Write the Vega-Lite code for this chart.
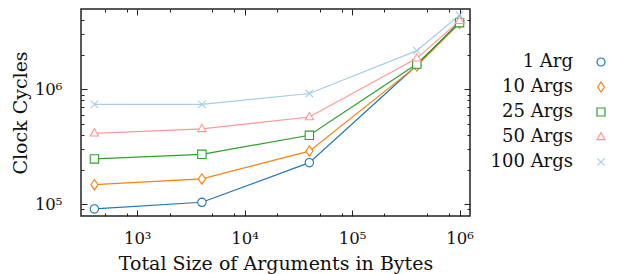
{
  "$schema": "https://vega.github.io/schema/vega-lite/v6.json",
  "width": 389,
  "height": 207,
  "autosize": {"type": "none"},
  "padding": {"left": 81, "top": 9, "right": 148, "bottom": 58},
  "background": "white",
  "config": {
    "view": {"stroke": "#222", "strokeWidth": 1.5},
    "font": "DejaVu Serif",
    "axis": {
      "domain": false, "grid": false, "tickColor": "#222", "tickWidth": 1,
      "labelFont": "DejaVu Serif", "labelFontSize": 16.5, "labelColor": "#111",
      "titleFont": "DejaVu Serif", "titleFontSize": 19, "titleFontWeight": "normal", "titleColor": "#111",
      "labelOverlap": false, "labelFlush": false
    },
    "legend": {
      "title": null, "orient": "none", "legendX": 511, "legendY": 44, "labelAlign": "right", "labelOffset": -37,
      "labelFont": "DejaVu Serif", "labelFontSize": 18, "labelColor": "#111", "symbolSize": 64, "symbolStrokeWidth": 1.2,
      "symbolFillColor": "white", "rowPadding": 7, "padding": 0
    }
  },
  "data": {"values": [
    {"series": "1 Arg", "size": 400, "cycles": 91000},
    {"series": "1 Arg", "size": 4000, "cycles": 104000},
    {"series": "1 Arg", "size": 40000, "cycles": 230000},
    {"series": "1 Arg", "size": 400000, "cycles": 1620000},
    {"series": "1 Arg", "size": 1000000, "cycles": 3850000},
    {"series": "10 Args", "size": 400, "cycles": 148000},
    {"series": "10 Args", "size": 4000, "cycles": 166000},
    {"series": "10 Args", "size": 40000, "cycles": 290000},
    {"series": "10 Args", "size": 400000, "cycles": 1600000},
    {"series": "10 Args", "size": 1000000, "cycles": 3750000},
    {"series": "25 Args", "size": 400, "cycles": 248000},
    {"series": "25 Args", "size": 4000, "cycles": 272000},
    {"series": "25 Args", "size": 40000, "cycles": 398000},
    {"series": "25 Args", "size": 400000, "cycles": 1660000},
    {"series": "25 Args", "size": 1000000, "cycles": 3800000},
    {"series": "50 Args", "size": 400, "cycles": 414000},
    {"series": "50 Args", "size": 4000, "cycles": 452000},
    {"series": "50 Args", "size": 40000, "cycles": 574000},
    {"series": "50 Args", "size": 400000, "cycles": 1860000},
    {"series": "50 Args", "size": 1000000, "cycles": 3950000},
    {"series": "100 Args", "size": 400, "cycles": 741000},
    {"series": "100 Args", "size": 4000, "cycles": 741000},
    {"series": "100 Args", "size": 40000, "cycles": 920000},
    {"series": "100 Args", "size": 400000, "cycles": 2170000},
    {"series": "100 Args", "size": 1000000, "cycles": 4430000}
  ]},
  "layer": [
    {
      "mark": {"type": "line", "opacity": 0},
      "encoding": {
        "x": {"field": "size", "type": "quantitative",
          "scale": {"type": "log", "domain": [300, 1250000], "nice": false},
          "axis": {"orient": "top", "labels": false, "title": null,
            "values": [500, 800, 1000, 2000, 5000, 8000, 10000, 20000, 50000, 80000, 100000, 200000, 500000, 800000, 1000000],
            "tickSize": {"condition": {"test": "abs(log(datum.value)/LN10 - round(log(datum.value)/LN10)) < 0.001", "value": -6}, "value": -3}}},
        "y": {"field": "cycles", "type": "quantitative",
          "scale": {"type": "log", "domain": [79000, 5000000], "nice": false},
          "axis": {"orient": "right", "labels": false, "title": null,
            "values": [90000, 100000, 200000, 300000, 400000, 500000, 600000, 700000, 800000, 900000, 1000000, 2000000, 3000000, 4000000],
            "tickSize": {"condition": {"test": "abs(log(datum.value)/LN10 - round(log(datum.value)/LN10)) < 0.001", "value": -6}, "value": -3}}}
      }
    },
    {
      "mark": {"type": "line", "strokeWidth": 1.2},
      "encoding": {
        "x": {"field": "size", "type": "quantitative",
          "scale": {"type": "log", "domain": [300, 1250000], "nice": false},
          "axis": {"orient": "bottom", "title": "Total Size of Arguments in Bytes", "titlePadding": 5,
            "values": [500, 800, 1000, 2000, 5000, 8000, 10000, 20000, 50000, 80000, 100000, 200000, 500000, 800000, 1000000],
            "labelExpr": "datum.value==1000?'10³':datum.value==10000?'10⁴':datum.value==100000?'10⁵':datum.value==1000000?'10⁶':''",
            "labelPadding": 20,
            "tickSize": {"condition": {"test": "abs(log(datum.value)/LN10 - round(log(datum.value)/LN10)) < 0.001", "value": -6}, "value": -3}}},
        "y": {"field": "cycles", "type": "quantitative",
          "scale": {"type": "log", "domain": [79000, 5000000], "nice": false},
          "axis": {"orient": "left", "title": "Clock Cycles", "titlePadding": 4,
            "values": [90000, 100000, 200000, 300000, 400000, 500000, 600000, 700000, 800000, 900000, 1000000, 2000000, 3000000, 4000000],
            "labelExpr": "datum.value==100000?'10⁵':datum.value==1000000?'10⁶':''",
            "labelPadding": 25,
            "tickSize": {"condition": {"test": "abs(log(datum.value)/LN10 - round(log(datum.value)/LN10)) < 0.001", "value": -6}, "value": -3}}},
        "color": {"field": "series", "type": "nominal",
          "scale": {"domain": ["1 Arg", "10 Args", "25 Args", "50 Args", "100 Args"], "range": ["#1f77b4", "#ff7f0e", "#2ca02c", "#ff9896", "#a6cee3"]}}
      }
    },
    {
      "mark": {"type": "point", "filled": false, "fill": "white", "opacity": 1, "strokeWidth": 1.1, "size": 70},
      "encoding": {
        "x": {"field": "size", "type": "quantitative",
          "scale": {"type": "log", "domain": [300, 1250000], "nice": false}, "axis": null},
        "y": {"field": "cycles", "type": "quantitative",
          "scale": {"type": "log", "domain": [79000, 5000000], "nice": false}, "axis": null},
        "color": {"field": "series", "type": "nominal",
          "scale": {"domain": ["1 Arg", "10 Args", "25 Args", "50 Args", "100 Args"], "range": ["#1f77b4", "#ff7f0e", "#2ca02c", "#ff9896", "#a6cee3"]}},
        "shape": {"field": "series", "type": "nominal",
          "scale": {"domain": ["1 Arg", "10 Args", "25 Args", "50 Args", "100 Args"],
            "range": ["circle", "M0,-1.25L0.85,0L0,1.25L-0.85,0Z", "square", "M0,-1.1L1,0.65L-1,0.65Z", "M-0.9,-0.9L0.9,0.9M-0.9,0.9L0.9,-0.9"]}}
      }
    }
  ],
  "resolve": {"axis": {"x": "independent", "y": "independent"}}
}
